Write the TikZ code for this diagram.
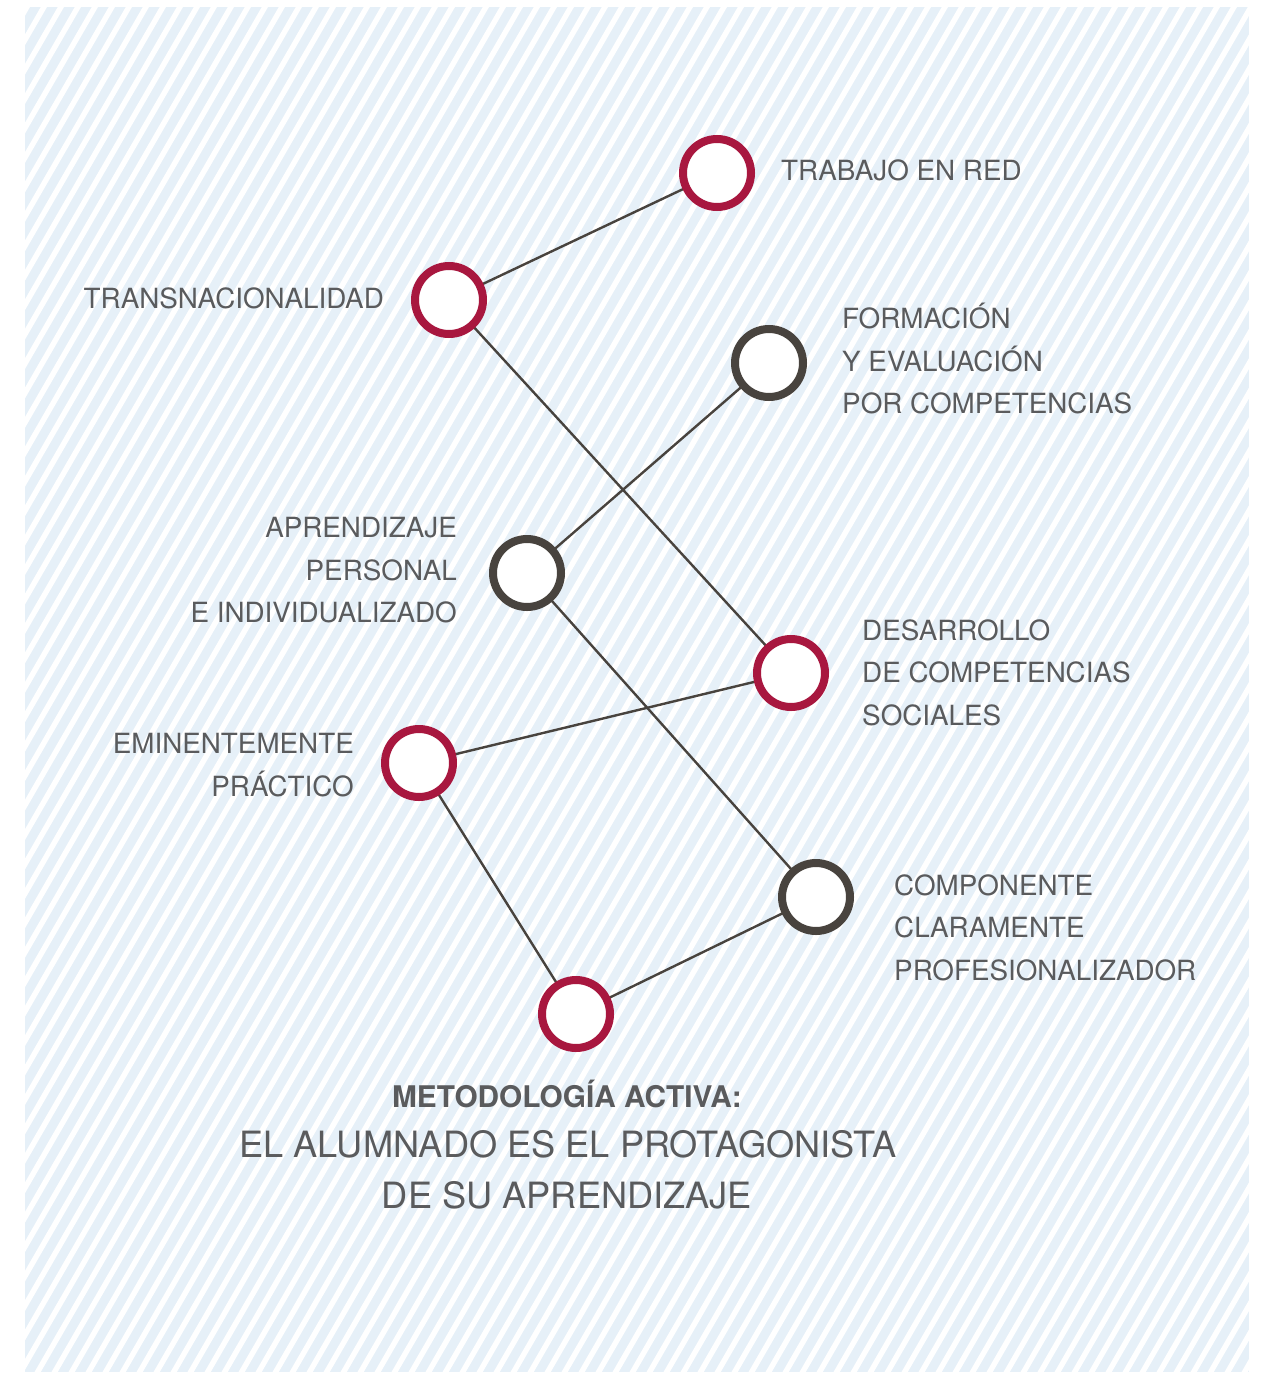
\documentclass[tikz,border=0pt]{standalone}
\usepackage{fontspec}
\setmainfont{TeX Gyre Heros}
\definecolor{hatchblue}{HTML}{E6F0F8}
\definecolor{ringred}{HTML}{A8173F}
\definecolor{ringdark}{HTML}{48433E}
\definecolor{txtgray}{HTML}{5A5B5D}
\pgfdeclarelayer{bg}
\pgfdeclarelayer{edges}
\pgfsetlayers{bg,edges,main}
\tikzset{
  ring/.style={circle, minimum size=68pt, inner sep=0pt, fill=white, line width=8pt},
  redring/.style={ring, draw=ringred},
  darkring/.style={ring, draw=ringdark},
  link/.style={draw=ringdark, line width=2.4pt},
  lbl/.style={inner sep=0pt, text=txtgray, font=\fontsize{27.8}{43}\selectfont},
  lblL/.style={lbl, anchor=base west},
  lblR/.style={lbl, anchor=base east},
  title/.style={inner sep=0pt, text=txtgray, anchor=base}
}
\begin{document}
\begin{tikzpicture}[x=1pt,y=-1pt]
\useasboundingbox (0,0) rectangle (1265,1373);
\begin{pgfonlayer}{bg}
  \fill[white] (0,0) rectangle (1265,1373);
  \begin{scope}
    \clip (25,7) rectangle (1249,1372);
    \fill[hatchblue] (25,7) rectangle (1249,1372);
    \foreach \x in {-800,-783,...,1280} {
      \draw[white, line width=5.4pt] (\x,1380) -- ({\x+801},-7);
    }
  \end{scope}
\end{pgfonlayer}

% rings
\node[redring]  (red)   at (717,173)  {};
\node[redring]  (trans) at (449,300)  {};
\node[darkring] (form)  at (769,363)  {};
\node[darkring] (apre)  at (527,573)  {};
\node[redring]  (desa)  at (791,673)  {};
\node[redring]  (emin)  at (419,763)  {};
\node[darkring] (comp)  at (816,897)  {};
\node[redring]  (meto)  at (576,1014) {};

\begin{pgfonlayer}{edges}
  \draw[link] (red.center) -- (trans.center);
  \draw[link] (trans.center) -- (desa.center);
  \draw[link] (form.center) -- (apre.center);
  \draw[link] (apre.center) -- (comp.center);
  \draw[link] (desa.center) -- (emin.center);
  \draw[link] (emin.center) -- (meto.center);
  \draw[link] (meto.center) -- (comp.center);
\end{pgfonlayer}

% labels
\node[lblL] (tred) at (781,180) {TRABAJO EN RED};
\node[lblR] (ttrans) at (384,308) {TRANSNACIONALIDAD};
\node[lblL] (tform1) at (842,328) {FORMACIÓN};
\node[lblL] (tform2) at (842,371) {Y EVALUACIÓN};
\node[lblL] (tform3) at (842,413) {POR COMPETENCIAS};
\node[lblR] (tapre1) at (457,537) {APRENDIZAJE};
\node[lblR] (tapre2) at (457,580) {PERSONAL};
\node[lblR] (tapre3) at (457,622) {E INDIVIDUALIZADO};
\node[lblL] (tdesa1) at (862,640) {DESARROLLO};
\node[lblL] (tdesa2) at (862,682) {DE COMPETENCIAS};
\node[lblL] (tdesa3) at (862,725) {SOCIALES};
\node[lblR] (temin1) at (354,753) {EMINENTEMENTE};
\node[lblR] (temin2) at (354,796) {PRÁCTICO};
\node[lblL] (tcomp1) at (894,895) {COMPONENTE};
\node[lblL] (tcomp2) at (894,937) {CLARAMENTE};
\node[lblL] (tcomp3) at (894,980) {PROFESIONALIZADOR};

\node[title, font=\bfseries\fontsize{29.8}{32}\selectfont] (tmeto) at (567,1107) {METODOLOGÍA ACTIVA:};
\node[title, font=\fontsize{36.2}{40}\selectfont] (tal1) at (568,1157) {EL ALUMNADO ES EL PROTAGONISTA};
\node[title, font=\fontsize{36.2}{40}\selectfont] (tal2) at (567,1208) {DE SU APRENDIZAJE};
\end{tikzpicture}
\end{document}
